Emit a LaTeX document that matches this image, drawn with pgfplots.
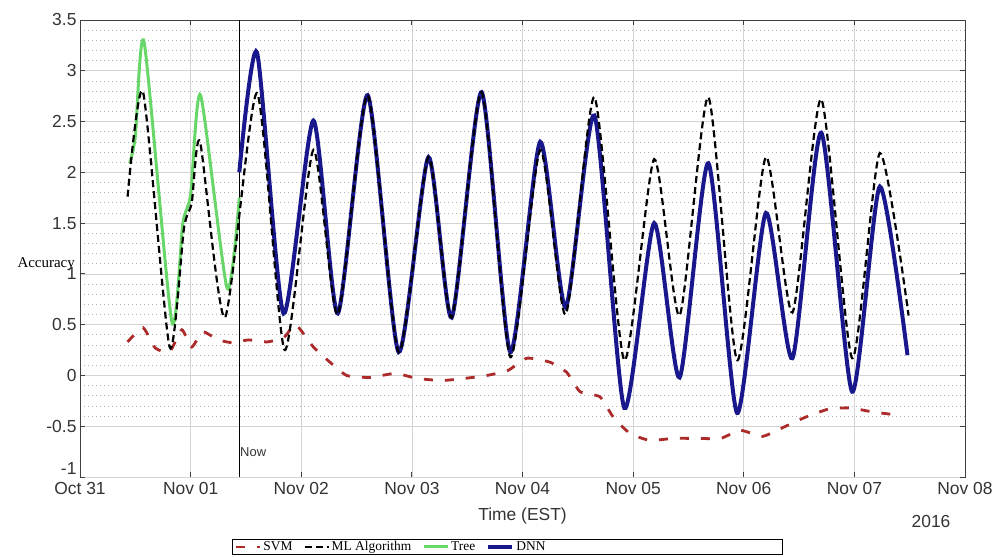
\documentclass[border=0pt]{standalone}
\usepackage{fontspec}
\setmainfont{Liberation Serif}
\setsansfont{Liberation Sans}
\usepackage{pgfplots}
\pgfplotsset{compat=1.18}

\definecolor{svmred}{RGB}{172,42,42}
\definecolor{treegreen}{RGB}{104,214,104}
\definecolor{dnnblue}{RGB}{24,24,140}

\tikzset{
  svm/.style={color=svmred, line width=2.8bp, dash pattern=on 9bp off 12bp},
  mlalg/.style={color=black, line width=2.2bp, dash pattern=on 7bp off 4bp},
  tree/.style={color=treegreen, line width=3bp},
  dnn/.style={color=dnnblue, line width=4bp},
}
\newcommand{\ticksize}{\sffamily\fontsize{17.5}{20}\selectfont}

\begin{document}
\begin{tikzpicture}
\begin{axis}[
  scale only axis, width=885bp, height=457bp,
  xmin=0, xmax=8, ymin=-1, ymax=3.5,
  clip=false,
  xtick={0,1,2,3,4,5,6,7,8},
  xticklabels={Oct 31,Nov 01,Nov 02,Nov 03,Nov 04,Nov 05,Nov 06,Nov 07,Nov 08},
  ytick={-0.5,0,0.5,1,1.5,2,2.5,3,3.5},
  extra y ticks={-1},
  extra y tick style={yticklabel style={yshift=8bp}},
  minor y tick num=4,
  grid=both,
  major grid style={black!17, line width=0.7bp},
  minor grid style={black!30, line width=0.7bp, dash pattern=on 0.7bp off 3.3bp},
  tick align=inside, major tick length=5bp, minor tick length=0pt,
  axis line style={black!75, line width=0.9bp},
  every tick/.style={black!75, line width=0.9bp},
  tick label style={font=\ticksize, text=black!80},
  xticklabel style={yshift=-2bp},
  /pgf/number format/assume math mode=true,
  xlabel={Time (EST)},
  xlabel style={font=\ticksize, text=black!80, yshift=-6bp},
  ylabel={Accuracy},
  ylabel style={rotate=-90, at={(axis description cs:0,0.466)}, anchor=east,
    inner sep=0pt, xshift=-5bp, font=\fontsize{15}{17}\selectfont},
  legend image code/.code={\draw[#1] (0bp,0bp) -- (24bp,0bp);},
  legend columns=4,
  legend style={at={(0.1718,0)}, anchor=north west, yshift=-62bp,
    draw=black, line width=1bp, font=\fontsize{13.5}{15}\selectfont,
    inner xsep=2bp, inner ysep=0pt,
    /tikz/every even column/.append style={column sep=9bp}},
]
\addlegendimage{svm}
\addlegendentry{SVM}
\addlegendimage{mlalg}
\addlegendentry{ML Algorithm}
\addlegendimage{tree}
\addlegendentry{Tree}
\addlegendimage{dnn}
\addlegendentry{\makebox[262bp][l]{DNN}}

% now marker
\addplot[forget plot, black, line width=1bp] coordinates {(1.4375,-1) (1.4375,3.5)};

\addplot[forget plot, tree, smooth, tension=0.4] coordinates {
  (0.45,2.09) (0.50,2.35) (0.58,3.28) (0.83,0.53) (0.93,1.50) (1.00,1.78)
  (1.09,2.76) (1.33,0.86) (1.44,1.75)};

\addplot[forget plot, dnn, smooth, tension=0.4] coordinates {
  (1.44,2.00) (1.60,3.18) (1.84,0.61) (2.11,2.51) (2.33,0.61) (2.60,2.76)
  (2.88,0.23) (3.15,2.15) (3.36,0.57) (3.63,2.79) (3.89,0.23) (4.16,2.30)
  (4.39,0.67) (4.65,2.56) (4.92,-0.32) (5.19,1.50) (5.42,-0.02) (5.68,2.09)
  (5.94,-0.37) (6.20,1.60) (6.44,0.17) (6.70,2.39) (6.98,-0.16) (7.23,1.86)
  (7.48,0.20)};

\addplot[forget plot, svm, smooth, tension=0.3] coordinates {
  (0.43,0.33) (0.57,0.47) (0.68,0.27) (0.81,0.23) (0.92,0.45) (1.01,0.28)
  (1.11,0.43) (1.25,0.35) (1.39,0.32) (1.52,0.35) (1.69,0.33) (1.84,0.37)
  (1.95,0.50) (2.11,0.28) (2.26,0.13) (2.41,0.00) (2.62,-0.02) (2.85,0.02)
  (3.05,-0.03) (3.27,-0.05) (3.47,-0.03) (3.68,0.00) (3.87,0.05) (4.04,0.17)
  (4.25,0.13) (4.40,0.03) (4.52,-0.16) (4.70,-0.21) (4.82,-0.41) (4.97,-0.57)
  (5.15,-0.64) (5.36,-0.62) (5.58,-0.62) (5.79,-0.62) (5.97,-0.54) (6.17,-0.60)
  (6.36,-0.51) (6.56,-0.41) (6.77,-0.33) (6.96,-0.32) (7.17,-0.36) (7.39,-0.39)};

\addplot[forget plot, mlalg, smooth, tension=0.4] coordinates {
  (0.43,1.76) (0.57,2.79) (0.81,0.28) (0.94,1.45) (1.01,1.70) (1.085,2.30)
  (1.31,0.57) (1.60,2.78) (1.85,0.25) (2.11,2.22) (2.33,0.60) (2.60,2.76)
  (2.88,0.23) (3.15,2.15) (3.36,0.57) (3.63,2.79) (3.89,0.18) (4.16,2.22)
  (4.39,0.60) (4.65,2.74) (4.92,0.15) (5.19,2.13) (5.42,0.59) (5.68,2.74)
  (5.94,0.15) (6.20,2.15) (6.44,0.62) (6.70,2.72) (6.98,0.17) (7.23,2.19)
  (7.49,0.59)};

\node[anchor=west, inner sep=1bp, font=\sffamily\fontsize{13}{15}\selectfont, text=black!80]
  at (axis cs:1.4375,-0.75) {Now};
\node[font=\ticksize, text=black!80] at (rel axis cs:0.9616,0) [yshift=-44bp] {2016};
\end{axis}
\pgfresetboundingbox
\path[use as bounding box] (-80bp,-80bp) rectangle (914bp,477bp);
\end{tikzpicture}
\end{document}
